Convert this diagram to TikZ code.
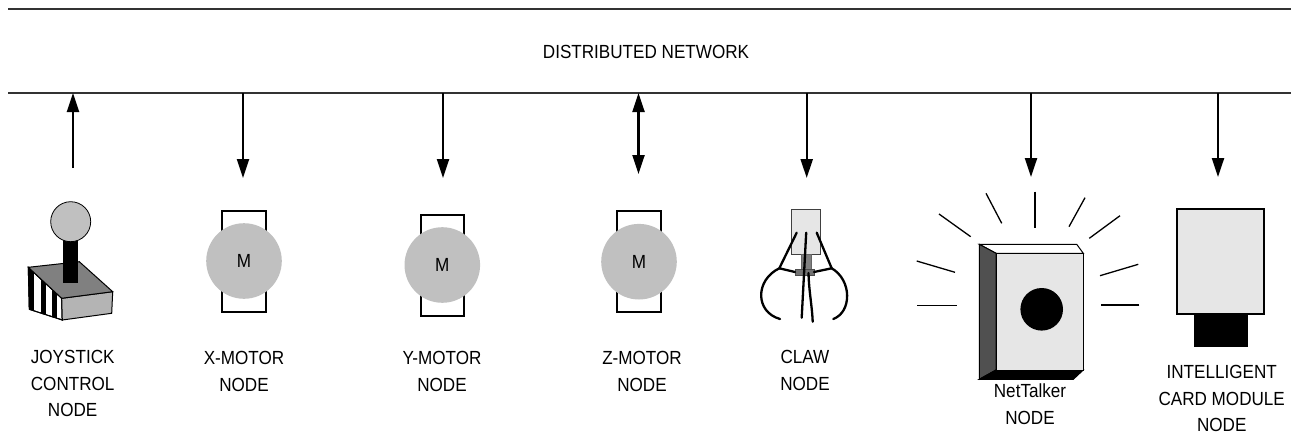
\documentclass[tikz,border=0pt]{standalone}
\usepackage{fontspec}
\setmainfont{Liberation Sans}[FakeStretch=0.9]
\usetikzlibrary{arrows.meta}
\definecolor{facegray}{HTML}{E6E6E6}
\definecolor{ballgray}{HTML}{C0C0C0}
\definecolor{midgray}{HTML}{808080}
\definecolor{lightside}{HTML}{B4B4B4}
\definecolor{darkside}{HTML}{505050}
\definecolor{busline}{HTML}{333333}
\begin{document}
\begin{tikzpicture}[x=1pt,y=-1pt,
  bus/.style={draw=busline,line width=1.3},
  link/.style={line width=2.3,-{Triangle[length=19pt,width=12pt]}},
  duplex/.style={line width=2.3,{Triangle[length=19pt,width=12pt]}-{Triangle[length=19pt,width=12pt]}},
  caption/.style={font=\fontsize{19}{26.7}\selectfont,align=center,anchor=north,inner sep=0pt},
  motorball/.style={circle,fill=ballgray,minimum size=75.6pt,inner sep=0pt,font=\fontsize{19}{22}\selectfont},
  ray/.style={line width=1.3},
  arm/.style={line width=2.3,line cap=round,line join=round},
  pics/motor/.style={code={
    \draw[line width=2] (-21.7,-50.5) rectangle (21.7,50.5);
    \node[motorball] (-m) at (0,0) {M};
  }}]
\useasboundingbox (0,0) rectangle (1291,436);

% the network bus
\draw[bus] (8,9) -- (1291,9);
\draw[bus] (8,93) -- (1291,93);
\node[font=\fontsize{19}{22}\selectfont,inner sep=0pt] (net) at (646,52) {DISTRIBUTED NETWORK};

% taps on the bus
\coordinate (tap-joy) at (73,93);
\coordinate (tap-x) at (243,93);
\coordinate (tap-y) at (443,93);
\coordinate (tap-z) at (638.5,93);
\coordinate (tap-claw) at (806.7,93);
\coordinate (tap-talk) at (1031,93);
\coordinate (tap-card) at (1218,93);

% device ports
\coordinate (port-joy) at (73,168);
\coordinate (port-x) at (243,178);
\coordinate (port-y) at (443,178);
\coordinate (port-z) at (638.5,174);
\coordinate (port-claw) at (806.7,178);
\coordinate (port-talk) at (1031,177);
\coordinate (port-card) at (1218,177);

\draw[link] (port-joy) -- (tap-joy);
\draw[link] (tap-x) -- (port-x);
\draw[link] (tap-y) -- (port-y);
\draw[duplex] (tap-z) -- (port-z);
\draw[link] (tap-claw) -- (port-claw);
\draw[link] (tap-talk) -- (port-talk);
\draw[link] (tap-card) -- (port-card);

% joystick
\filldraw[fill=white,line width=1] (28.3,267.3) -- (61.7,298.3) -- (62.3,320) -- (29.3,309.3) -- cycle;
\begin{scope}
  \clip (28.3,267.3) -- (61.7,298.3) -- (62.3,320) -- (29.3,309.3) -- cycle;
  \fill (28,260) rectangle (34.3,325);
  \fill (40.7,260) rectangle (45.7,325);
  \fill (51.7,260) rectangle (56.7,325);
\end{scope}
\draw[line width=1] (28.3,267.3) -- (61.7,298.3) -- (62.3,320) -- (29.3,309.3) -- cycle;
\filldraw[fill=lightside,line width=1] (61.7,298.3) -- (112.7,291.7) -- (111.7,313.3) -- (62.3,320) -- cycle;
\filldraw[fill=midgray,line width=1] (28.3,267.3) -- (79.3,261.7) -- (112.7,291.7) -- (61.7,298.3) -- cycle;
\fill (63.3,240) rectangle (77.7,282.7);
\node[circle,draw,line width=0.8,fill=ballgray,minimum size=40pt,inner sep=0pt] (knob) at (70.7,221.7) {};
\node[caption] (joy-label) at (72.7,349.9) {JOYSTICK\\CONTROL\\NODE};

% motors
\pic (xmotor) at (244,261) {motor};
\pic (ymotor) at (442.3,265) {motor};
\pic (zmotor) at (639,261.7) {motor};
\node[caption] (x-label) at (244,351.5) {X-MOTOR\\NODE};
\node[caption] (y-label) at (442,351.5) {Y-MOTOR\\NODE};
\node[caption] (z-label) at (642,351.5) {Z-MOTOR\\NODE};

% claw
\filldraw[fill=facegray,draw=black!75,line width=0.8] (791,209.3) rectangle (820.7,254);
\filldraw[fill=midgray,draw=black!60,line width=0.6] (801,254) rectangle (811,269.3);
\filldraw[fill=black!55,draw=black!70,line width=0.6] (795,269.3) rectangle (814,275);
\draw[arm] (796.7,232.7) -- (779.3,268.3) -- (795,272);
\draw[arm] (779.3,268.3) .. controls (755,280) and (755,312) .. (780,319);
\draw[arm] (816.7,232.7) -- (831.7,268.3) -- (814,272);
\draw[arm] (831.7,268.3) .. controls (852,280) and (852,312) .. (833.3,319);
\draw[arm] (806.2,232.7) -- (801.7,317.7);
\draw[arm] (808.5,273) .. controls (809,292) and (812,305) .. (812.7,321.7);
\node[caption] (claw-label) at (805,350) {CLAW\\NODE};

% NetTalker
\foreach \a/\b/\c/\d in {917.3/305.7/956.7/305.7, 916.7/261/955/272.3, 939/214/970.7/236.7,
  986/193.3/1001.7/223.3, 1035/191.7/1035/228.3, 1085/197.7/1069/226.7,
  1120/215.7/1089.3/238.3, 1138.3/264.3/1100/275.7, 1139.3/305/1101/305}
  \draw[ray] (\a,\b) -- (\c,\d);
\filldraw[fill=white,line width=1] (979.3,244.3) -- (1076.7,244.3) -- (1083.3,253.3) -- (996,253.3) -- cycle;
\filldraw[fill=darkside,line width=1] (979.3,244.3) -- (996,253.3) -- (996,370) -- (979.3,379.3) -- cycle;
\filldraw[fill=black,line width=1] (979.3,379.3) -- (996,370) -- (1083.3,370) -- (1073.3,379.3) -- cycle;
\filldraw[fill=facegray,line width=1] (996,253.3) rectangle (1083.3,370);
\node[circle,fill=black,minimum size=42.6pt,inner sep=0pt] (speaker) at (1041.7,309.3) {};
\node[caption] (talk-label) at (1030,384) {NetTalker\\NODE};

% intelligent card module
\filldraw[fill=facegray,line width=2] (1176.7,209) rectangle (1264.3,314.3);
\fill (1194.3,315.3) rectangle (1248.3,346.7);
\node[caption] (card-label) at (1221.7,365) {INTELLIGENT\\CARD MODULE\\NODE};
\end{tikzpicture}
\end{document}
